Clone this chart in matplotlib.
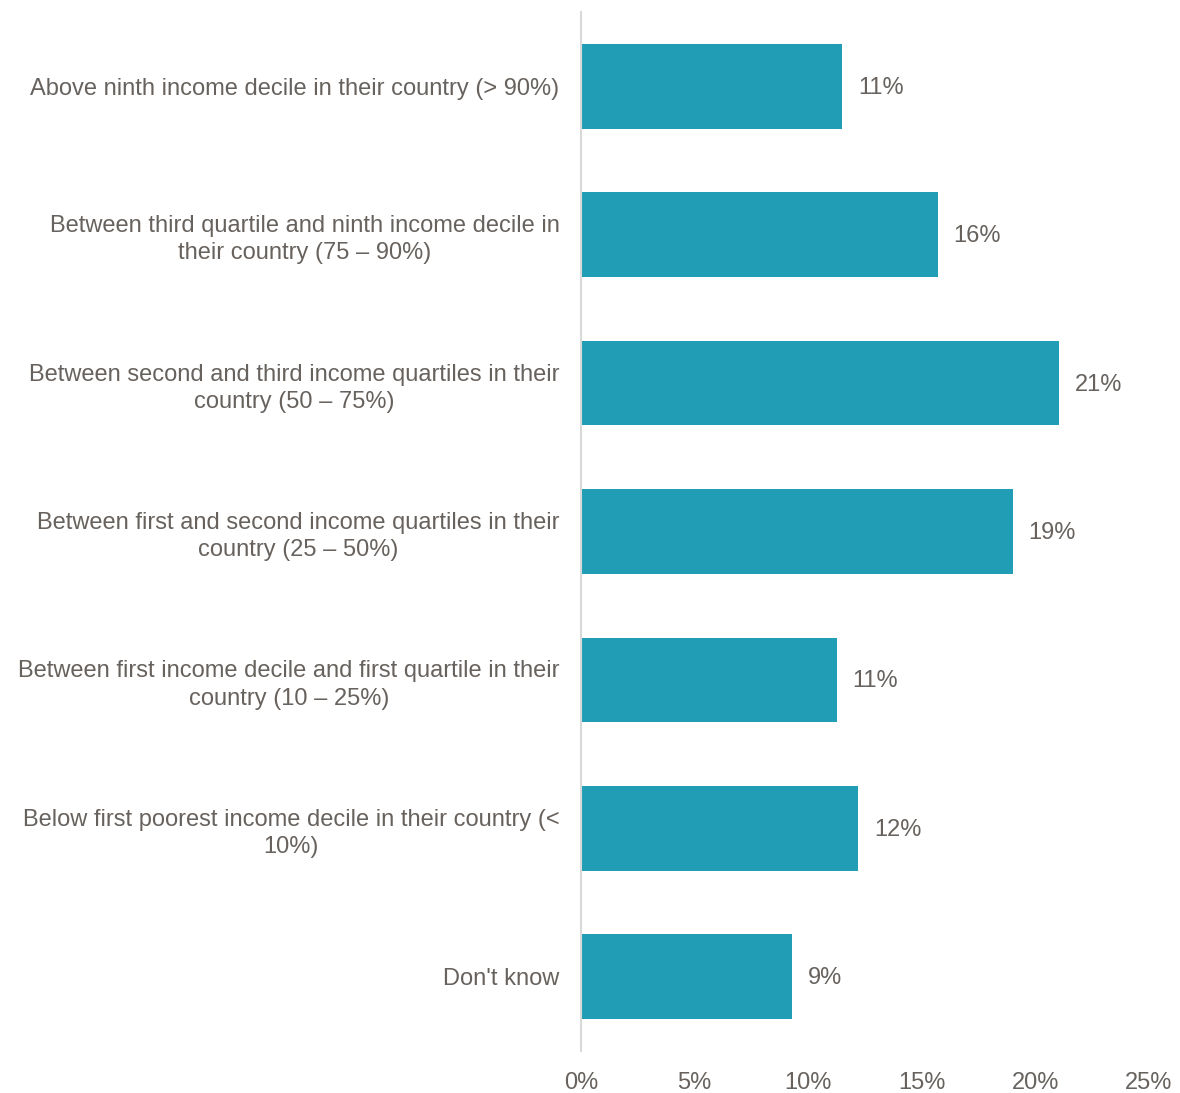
import matplotlib
matplotlib.use("Agg")
import matplotlib.pyplot as plt

categories = [
    "Above ninth income decile in their country (> 90%)",
    "Between third quartile and ninth income decile in\ntheir country (75 – 90%)",
    "Between second and third income quartiles in their\ncountry (50 – 75%)",
    "Between first and second income quartiles in their\ncountry (25 – 50%)",
    "Between first income decile and first quartile in their\ncountry (10 – 25%)",
    "Below first poorest income decile in their country (<\n10%)",
    "Don't know",
]
values = [11.5, 15.7, 21.05, 19.0, 11.25, 12.2, 9.3]
value_labels = ["11%", "16%", "21%", "19%", "11%", "12%", "9%"]
xticks = [0, 5, 10, 15, 20, 25]
xticklabels = ["0%", "5%", "10%", "15%", "20%", "25%"]

plt.rcParams['font.family'] = ['Liberation Sans', 'DejaVu Sans']
text_color = "#67625d"
bar_color = "#219EB6"

fig = plt.figure(figsize=(11.8, 10.93), dpi=100)
ax = fig.add_axes([581/1180, 1 - 1051/1093, (1149 - 581)/1180, (1051 - 12)/1093])

y = list(range(len(categories)))
ax.barh(y, values, height=0.57, color=bar_color)
for yi, v, lab in zip(y, values, value_labels):
    ax.text(v + 0.7, yi + 0.01, lab, va="center", ha="left", fontsize=17, color=text_color)

ax.set_ylim(len(categories) - 0.5, -0.5)
ax.set_xlim(0, 25)
ax.set_yticks(y)
ax.set_yticklabels(categories, fontsize=17, color=text_color)
for t in ax.get_yticklabels():
    t.set_horizontalalignment("right")
    t.set_multialignment("center")
    t.set_linespacing(1.3)
ax.set_xticks(xticks)
ax.set_xticklabels(xticklabels, fontsize=17, color=text_color)

for s in ["top", "right", "bottom"]:
    ax.spines[s].set_visible(False)
ax.spines["left"].set_color("#d9d9d9")
ax.spines["left"].set_linewidth(1.5)
ax.tick_params(axis="both", length=0)
ax.tick_params(axis="x", pad=15)
ax.tick_params(axis="y", pad=15.5)

fig.savefig("out.png", dpi=100)
